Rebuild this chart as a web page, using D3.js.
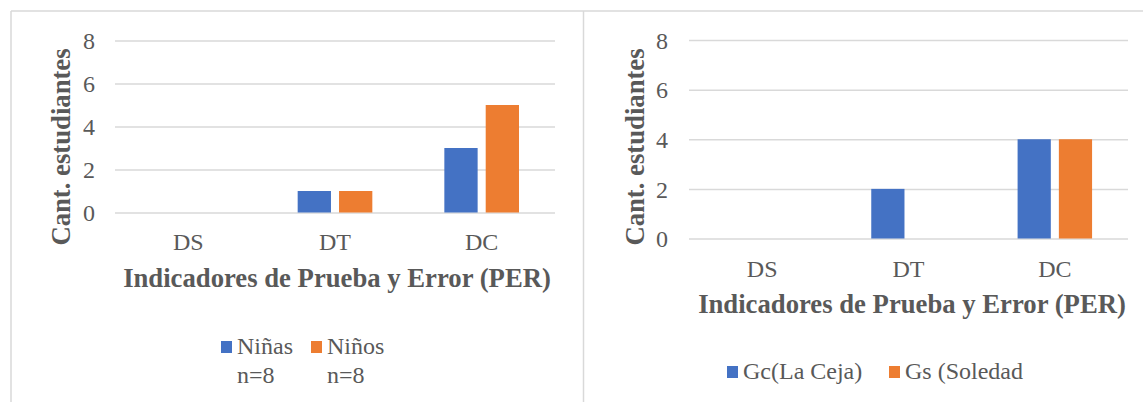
<!DOCTYPE html>
<html><head><meta charset="utf-8">
<script src="https://cdn.jsdelivr.net/npm/d3@7"></script>
<style>
html,body{margin:0;padding:0;background:#fff;}
</style></head>
<body>
<svg id="c" width="1143" height="402"></svg>
<script>
const categories = ["DS", "DT", "DC"];
const ninas = [0, 1, 3];
const ninos = [0, 1, 5];
const gc = [0, 2, 4];
const gs = [0, 0, 4];
const yTicks = [0, 2, 4, 6, 8];
const leftSeries = [{name: "Niñas", sub: "n=8", values: ninas}, {name: "Niños", sub: "n=8", values: ninos}];
const rightSeries = [{name: "Gc(La Ceja)", values: gc}, {name: "Gs (Soledad", values: gs}];
const colors = ["#4472C4", "#ED7D31"];
const yTitle = "Cant. estudiantes";
const xTitle = "Indicadores de Prueba y Error (PER)";
const FONT = "'Liberation Serif', 'Times New Roman', serif";

const svg = d3.select("#c");
svg.append("line").attr("x1", 11).attr("x2", 1143).attr("y1", 11).attr("y2", 11).attr("stroke", "#D9D9D9").attr("stroke-width", 1.5);
svg.append("line").attr("x1", 11).attr("x2", 11).attr("y1", 11).attr("y2", 402).attr("stroke", "#D9D9D9").attr("stroke-width", 1.5);
svg.append("line").attr("x1", 583.5).attr("x2", 583.5).attr("y1", 11).attr("y2", 402).attr("stroke", "#D9D9D9").attr("stroke-width", 1.5);

function drawChart(cfg) {
  const g = svg.append("g");
  const x = d3.scaleBand().domain(categories).range([cfg.x0, cfg.x1]);
  const y = d3.scaleLinear().domain([0, 8]).range([cfg.yb, cfg.yt]);
  const bw = x.bandwidth() * 0.227, gap = x.bandwidth() * 0.055;
  const x1 = d3.scaleOrdinal().domain([0, 1]).range([-bw - gap / 2, gap / 2]);

  const ax = d3.axisLeft(y).tickValues(yTicks).tickSize(-(cfg.x1 - cfg.x0)).tickPadding(cfg.tickPad).tickFormat(d3.format("d"));
  const ag = g.append("g").attr("transform", `translate(${cfg.x0},0)`).call(ax);
  ag.attr("font-family", FONT);
  ag.select(".domain").remove();
  ag.selectAll(".tick line").attr("stroke", "#D9D9D9").attr("stroke-width", 1.5);
  ag.selectAll(".tick text").attr("font-size", 24).attr("fill", "#595959").attr("dy", "0.34em").style("font-family", FONT);

  cfg.series.forEach((s, i) => {
    g.selectAll(null).data(s.values.map((v, j) => ({v, c: categories[j]})).filter(d => d.v > 0))
      .enter().append("rect")
      .attr("x", d => x(d.c) + x.bandwidth() / 2 + x1(i))
      .attr("width", bw)
      .attr("y", d => y(d.v))
      .attr("height", d => y(0) - y(d.v))
      .attr("fill", colors[i]);
  });

  const xa = d3.axisBottom(x).tickSize(0).tickPadding(cfg.catPad);
  const xg = g.append("g").attr("transform", `translate(0,${cfg.yb})`).call(xa);
  xg.attr("font-family", FONT);
  xg.select(".domain").remove();
  xg.selectAll(".tick text").attr("font-size", 24).attr("fill", "#595959").style("font-family", FONT);

  g.append("text").attr("x", (cfg.x0 + cfg.x1) / 2 + cfg.titleDx).attr("y", cfg.titleY)
    .attr("text-anchor", "middle").attr("font-size", 26.7).attr("font-weight", "bold")
    .attr("fill", "#595959").style("font-family", FONT).text(xTitle);
  g.append("text").attr("transform", `translate(${cfg.yTitleX},${cfg.yTitleY}) rotate(-90)`)
    .attr("text-anchor", "middle").attr("font-size", 26.7).attr("font-weight", "bold")
    .attr("fill", "#595959").style("font-family", FONT).text(yTitle);

  cfg.series.forEach((s, i) => {
    const lx = cfg.legX[i];
    g.append("rect").attr("x", lx).attr("y", cfg.legY - 13).attr("width", 11).attr("height", 12).attr("fill", colors[i]);
    const t = g.append("text").attr("x", lx + 16).attr("y", cfg.legY).attr("font-size", 24)
      .attr("fill", "#595959").style("font-family", FONT);
    t.append("tspan").text(s.name);
    if (s.sub) t.append("tspan").attr("x", lx + 16).attr("dy", 29).text(s.sub);
  });
}

drawChart({x0: 115, x1: 555, yt: 40.5, yb: 212.5, series: leftSeries, tickPad: 20, catPad: 20.5, titleY: 287, titleDx: 2,
  yTitleX: 70, yTitleY: 147, legX: [221, 311], legY: 354});
drawChart({x0: 689, x1: 1128, yt: 40, yb: 238.5, series: rightSeries, tickPad: 21, catPad: 21.5, titleY: 313, titleDx: 3.5,
  yTitleX: 644, yTitleY: 147, legX: [727, 889], legY: 379});
</script>
</body></html>
